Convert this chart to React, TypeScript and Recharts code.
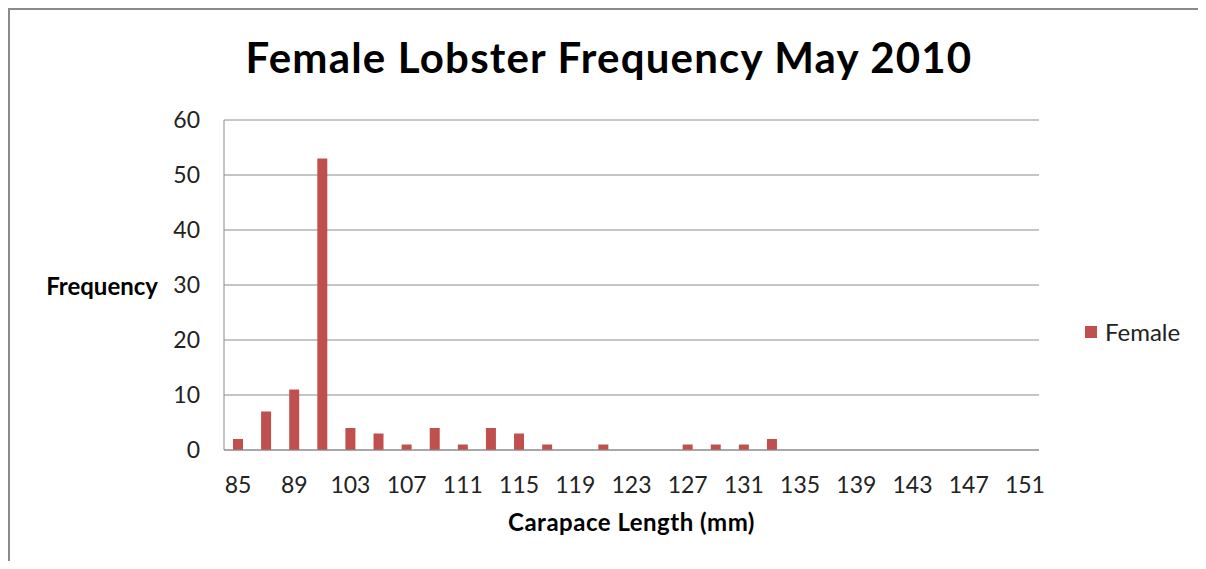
import React from 'react';
import { BarChart, Bar, XAxis, YAxis, CartesianGrid, Legend } from 'recharts';

const categories = ['85','87','89','101','103','105','107','109','111','113','115','117','119','121','123','125','127','129','131','133','135','137','139','141','143','145','147','149','151'];
const femaleValues = [2,7,11,53,4,3,1,4,1,4,3,1,0,1,0,0,1,1,1,2,0,0,0,0,0,0,0,0,0];
const yTicks = [0,10,20,30,40,50,60];
const titleText = 'Female Lobster Frequency May 2010';
const xTitle = 'Carapace Length (mm)';
const yTitle = 'Frequency';
const seriesName = 'Female';

const data = categories.map((c, i) => ({ length: c, Female: femaleValues[i] }));

const FONT = 'Lato, "Open Sans", sans-serif';
const RED = '#C0504D';
const GRID = '#8c8c8c';

const LegendContent = (props: any) => {
  const items = props.payload || [];
  return (
    <div>
      {items.map((it: any) => (
        <div key={it.value} style={{ display: 'flex', alignItems: 'center', height: 24 }}>
          <div style={{ width: 12, height: 12, background: RED, marginRight: 8 }} />
          <span style={{ fontFamily: FONT, fontSize: 24, color: '#222', lineHeight: '24px', whiteSpace: 'nowrap' }}>{it.value}</span>
        </div>
      ))}
    </div>
  );
};

export default function App() {
  return (
    <div
      style={{
        width: 1198,
        height: 561,
        marginRight: -8,
        marginBottom: -8,
        borderTop: '2px solid #8a8a8a',
        borderLeft: '2px solid #8a8a8a',
        boxSizing: 'border-box',
        position: 'relative',
        overflow: 'hidden',
        fontFamily: FONT,
        background: '#fff',
      }}
    >
      <style>{'html, body { overflow: hidden; }'}</style>
      <BarChart
        width={1196}
        height={559}
        data={data}
        margin={{ top: 110, right: 167, bottom: 59, left: 134 }}
      >
        <CartesianGrid vertical={false} stroke={GRID} />
        <XAxis
          dataKey="length"
          interval={1}
          tickLine={false}
          tickSize={0}
          tickMargin={27}
          height={60}
          axisLine={{ stroke: GRID }}
          tick={{ fontSize: 23, fill: '#222', fontFamily: FONT }}
        />
        <YAxis
          domain={[0, 60]}
          ticks={yTicks}
          width={80}
          tickLine={false}
          tickSize={0}
          tickMargin={24}
          axisLine={{ stroke: GRID }}
          tick={{ fontSize: 23, fill: '#222', fontFamily: FONT }}
        />
        <Legend
          layout="vertical"
          align="center"
          verticalAlign="middle"
          content={<LegendContent />}
          wrapperStyle={{ left: 1075, top: 310, width: 'auto' }}
        />
        <Bar dataKey="Female" name={seriesName} fill={RED} barSize={10} isAnimationActive={false} />
      </BarChart>
      <div
        style={{
          position: 'absolute',
          left: 0,
          width: 1198,
          top: 26,
          textAlign: 'center',
          fontSize: 42,
          lineHeight: '42px',
          letterSpacing: 1.2,
          fontWeight: 700,
          color: '#000',
          whiteSpace: 'nowrap',
        }}
      >
        {titleText}
      </div>
      <div
        style={{
          position: 'absolute',
          right: 1196 - 148,
          top: 264,
          fontSize: 24,
          lineHeight: '24px',
          fontWeight: 700,
          color: '#000',
          whiteSpace: 'nowrap',
        }}
      >
        {yTitle}
      </div>
      <div
        style={{
          position: 'absolute',
          left: 214,
          width: 815,
          top: 500,
          textAlign: 'center',
          fontSize: 24,
          lineHeight: '24px',
          letterSpacing: 0.5,
          fontWeight: 700,
          color: '#000',
          whiteSpace: 'nowrap',
        }}
      >
        {xTitle}
      </div>
    </div>
  );
}
